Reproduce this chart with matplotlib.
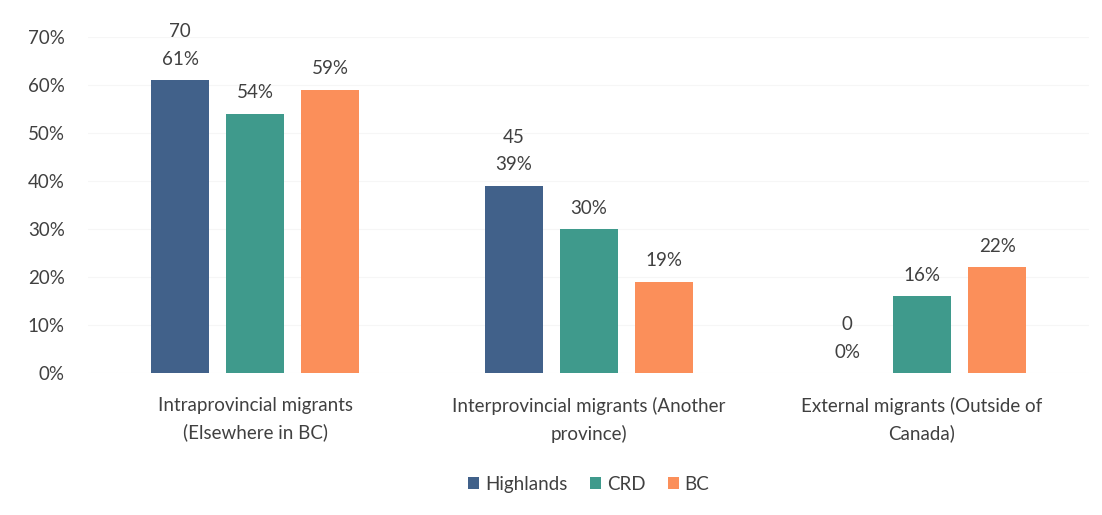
import numpy as np
import matplotlib.pyplot as plt

plt.rcParams['font.family'] = ['Lato', 'DejaVu Sans']

# data
categories = ['Intraprovincial migrants\n(Elsewhere in BC)',
              'Interprovincial migrants (Another\nprovince)',
              'External migrants (Outside of\nCanada)']
series = ['Highlands', 'CRD', 'BC']
highlands = [0.61, 0.39, 0.00]
crd = [0.54, 0.30, 0.16]
bc = [0.59, 0.19, 0.22]
highlands_counts = [70, 45, 0]
colors = ['#41618a', '#3f9a8c', '#fb8f5a']

fig = plt.figure(figsize=(11.02, 5.15), dpi=100)
ax = fig.add_axes([0.0803, 0.2757, 0.9077, 0.6524])

x = np.arange(len(categories))
w = 0.174
step = 0.225
for i, (name, vals, c) in enumerate(zip(series, [highlands, crd, bc], colors)):
    xs = x + (i - 1) * step
    ax.bar(xs, vals, width=w, color=c, label=name)
    for j, (xx, v) in enumerate(zip(xs, vals)):
        txt = f'{v*100:.0f}%'
        if name == 'Highlands':
            txt = f'{highlands_counts[j]}\n{txt}'
        ax.annotate(txt, (xx, v), xytext=(0, 9), textcoords='offset points',
                    ha='center', va='bottom', fontsize=13.5, color='#404040',
                    linespacing=1.75)

ax.set_xlim(-0.5, 2.5)
ax.set_ylim(0, 0.70)
ax.set_yticks(np.arange(0, 0.71, 0.1))
ax.set_yticklabels([f'{t}%' for t in range(0, 71, 10)])
ax.set_xticks(x)
ax.set_xticklabels(categories, linespacing=1.65)
ax.tick_params(length=0, labelsize=13.5, colors='#404040')
ax.tick_params(axis='y', pad=17)
ax.tick_params(axis='x', pad=17)
for s in ax.spines.values():
    s.set_visible(False)
ax.grid(axis='y', color='#f6f6f6', lw=0.8)
ax.set_axisbelow(True)

ax.legend(loc='upper center', bbox_to_anchor=(0.5, -0.255), ncol=3, frameon=False,
          fontsize=13.5, handlelength=0.6, handleheight=0.6, handletextpad=0.3,
          columnspacing=1.2, labelcolor='#404040')

fig.savefig('out.png', dpi=100)
